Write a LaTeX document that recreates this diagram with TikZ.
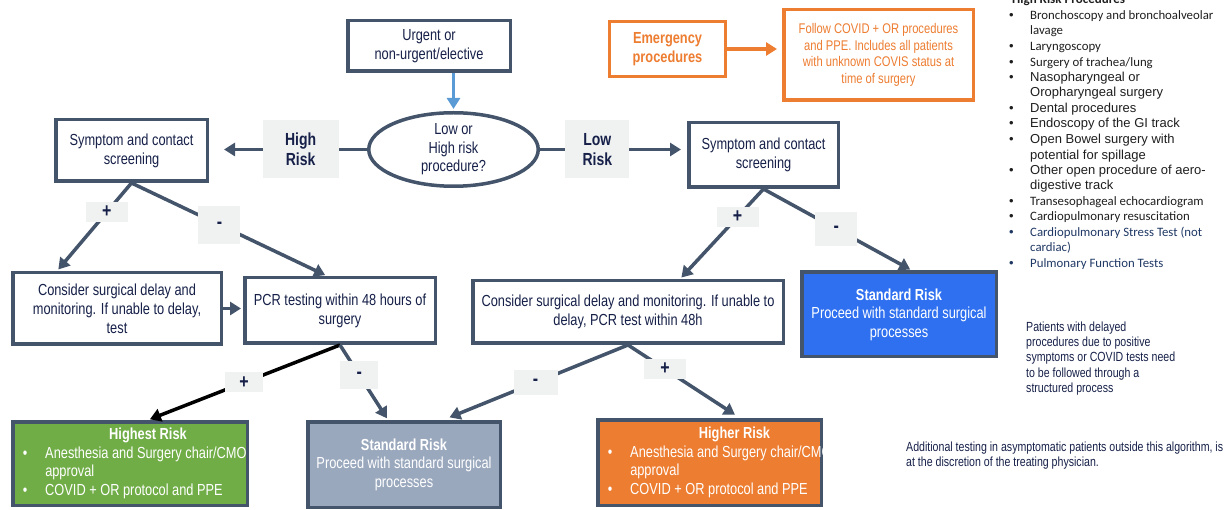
\documentclass[tikz,border=0pt]{standalone}
\usepackage{fontspec}
\setmainfont{Liberation Sans}[FakeStretch=0.8]
\newfontfamily\arialfont{Liberation Sans}
\newfontfamily\califont{Carlito}
\usetikzlibrary{arrows.meta, shapes.geometric}
\definecolor{slate}{RGB}{68,84,106}
\definecolor{navy}{RGB}{22,32,72}
\definecolor{labgrey}{RGB}{240,242,242}
\definecolor{flowblue}{RGB}{91,155,213}
\definecolor{emorange}{RGB}{237,125,49}
\definecolor{riskgreen}{RGB}{112,173,71}
\definecolor{riskgrey}{RGB}{154,168,190}
\definecolor{riskblue}{RGB}{46,112,240}
\definecolor{listblack}{RGB}{30,30,30}
\definecolor{listblue}{RGB}{31,56,100}
\newcommand{\calsz}{\califont\fontsize{12.8}{15}\selectfont}
\newcommand{\arisz}{\arialfont\fontsize{13}{15}\selectfont}
\newcommand{\bitem}{\hspace*{6pt}\makebox[22.5pt][l]{\textbullet}}
\newcommand{\rline}[2]{\makebox[#1][l]{#2}}

\begin{document}
\begin{tikzpicture}[x=1pt, y=-1pt,
  flowbox/.style={rectangle, draw=slate, line width=3.5pt, fill=white, text=navy,
               align=center, font=\fontsize{16}{19}\selectfont, inner sep=4pt},
  riskbox/.style={flowbox, text=white, font=\fontsize{16}{18.5}\selectfont},
  decision/.style={ellipse, draw=slate, line width=3.5pt, fill=white, text=navy, align=center,
               font=\fontsize{16}{18.5}\selectfont, inner sep=0pt},
  emerbox/.style={flowbox, draw=emorange, text=emorange},
  risklab/.style={fill=labgrey, text=navy, align=center, inner sep=0pt,
               font=\fontsize{17.5}{20}\selectfont\bfseries},
  pluslab/.style={fill=labgrey, text=navy, inner sep=0pt, minimum width=42pt, minimum height=20pt,
               font=\fontsize{20}{20}\selectfont\bfseries},
  minuslab/.style={pluslab, minimum height=34pt},
  arrow/.style={-{Triangle[length=11pt, width=13pt]}, line width=3.5pt, slate, shorten >=2pt},
  note/.style={text=navy, align=left, inner sep=0pt, font=\fontsize{13.25}{15.4}\selectfont},
  listline/.style={anchor=base west, inner sep=0pt}
]
\useasboundingbox (0,0) rectangle (1226,510);
\clip (0,0) rectangle (1226,510);

\node[flowbox, minimum width=162.5pt, minimum height=50.5pt] (urgent) at (429,46) {Urgent or\\non-urgent/elective};
\node[decision, minimum width=169.5pt, minimum height=73.5pt] (decide) at (453.5,149.5) {Low or\\High risk\\procedure?};
\node[flowbox, minimum width=151.5pt, minimum height=61.5pt] (scrHigh) at (131.5,150.5) {Symptom and contact\\screening};
\node[flowbox, minimum width=149.5pt, minimum height=64.5pt] (scrLow) at (763.5,155) {Symptom and contact\\screening};
\node[flowbox, minimum width=208.5pt, minimum height=71.5pt] (delayL) at (117,308.5) {Consider surgical delay and\\monitoring. If unable to delay,\\test};
\node[flowbox, minimum width=190.5pt, minimum height=65.5pt] (pcr) at (340,310.5) {PCR testing within 48 hours of\\surgery};
\node[flowbox, minimum width=310.5pt, minimum height=62.5pt] (delayR) at (628,312) {Consider surgical delay and monitoring. If unable to\\delay, PCR test within 48h};
\node[riskbox, fill=riskblue, minimum width=194.5pt, minimum height=84.5pt] (stdBlue) at (899,314.5) {\textbf{Standard Risk}\\Proceed with standard surgical\\processes};
\node[riskbox, fill=riskgreen, minimum width=234.5pt, minimum height=83.5pt, align=left] (highest) at (130,463.5)
  {\makebox[226.5pt]{\hspace*{36pt}\bfseries Highest Risk}\\
   \rline{226.5pt}{\bitem Anesthesia and Surgery chair/CMO}\\
   \rline{226.5pt}{\hspace*{28.5pt}approval}\\
   \rline{226.5pt}{\bitem COVID + OR protocol and PPE}};
\node[riskbox, fill=riskgrey, minimum width=192.5pt, minimum height=85.5pt] (stdGrey) at (404,464.5) {\textbf{Standard Risk}\\Proceed with standard surgical\\processes};
\node[riskbox, fill=emorange, minimum width=223.5pt, minimum height=85.5pt, align=left] (higher) at (709.5,462.5)
  {\makebox[215.5pt]{\hspace*{50pt}\bfseries Higher Risk}\\
   \rline{215.5pt}{\bitem Anesthesia and Surgery chair/CMO}\\
   \rline{215.5pt}{\hspace*{28.5pt}approval}\\
   \rline{215.5pt}{\bitem COVID + OR protocol and PPE}};
\node[emerbox, line width=3pt, minimum width=115.5pt, minimum height=54.5pt, font=\fontsize{16}{18.5}\selectfont\bfseries] (emerg) at (667.5,49) {Emergency\\procedures};
\node[emerbox, minimum width=189.5pt, minimum height=90.5pt, font=\fontsize{14}{16.7}\selectfont] (follow) at (878.5,55) {Follow COVID + OR procedures\\and PPE. Includes all patients\\with unknown COVIS status at\\time of surgery};

\draw[arrow, flowblue, line width=3pt] (decide.north |- urgent.south) -- (decide.north);
\draw[arrow, emorange, shorten >=5pt] (emerg.east) -- (emerg.east -| follow.west);
\draw[arrow, shorten >=15pt] (decide.west) -- node[risklab, pos=0.42, minimum width=76pt, minimum height=58pt] (highLab) {High\\Risk} (decide.west -| scrHigh.east);
\draw[arrow, shorten >=6pt] (decide.east) -- node[risklab, pos=0.39, minimum width=64pt, minimum height=58pt] (lowLab) {Low\\Risk} (decide.east -| scrLow.west);
\draw[arrow] (scrHigh.south) -- node[pluslab, pos=0.33] (plusA) {+} ([xshift=46pt]delayL.north west);
\draw[arrow] (scrHigh.south) -- node[minuslab, pos=0.45, minimum height=38pt] (minusA) {-} ([xshift=84pt]pcr.north west);
\draw[arrow] (delayL.east) -- (delayL.east -| pcr.west);
\draw[arrow] (scrLow.south) -- node[pluslab, pos=0.31] (plusB) {+} ([xshift=209pt]delayR.north west);
\draw[arrow] (scrLow.south) -- node[minuslab, pos=0.49] (minusB) {-} ([xshift=112pt]stdBlue.north west);
\draw[arrow, black] (pcr.south) -- node[pluslab, pos=0.5, minimum width=38pt] (plusC) {+} ([xshift=137pt]highest.north west);
\draw[arrow] (pcr.south) -- node[minuslab, pos=0.4, minimum width=38pt, minimum height=28pt] (minusC) {-} ([xshift=82pt]stdGrey.north west);
\draw[arrow, shorten >=7pt] (delayR.south) -- node[minuslab, pos=0.5, minimum width=44pt, minimum height=25pt] (minusD) {-} ([xshift=137pt]stdGrey.north west);
\draw[arrow, shorten >=6pt] (delayR.south) -- node[pluslab, pos=0.33] (plusD) {+} ([xshift=144pt]higher.north west);

\node[listline, text=listblack] (hrTitle) at (1012,3.5) {\califont\fontsize{13}{15}\selectfont\bfseries High Risk Procedures};
\foreach \yy/\bb/\ff/\cc/\txt [count=\i] in {
  19.5/1/\calsz/listblack/{Bronchoscopy and bronchoalveolar},
  34.5/0/\calsz/listblack/{lavage},
  50.5/1/\calsz/listblack/{Laryngoscopy},
  66.5/1/\calsz/listblack/{Surgery of trachea/lung},
  81.5/1/\arisz/listblack/{Nasopharyngeal or},
  96.5/0/\arisz/listblack/{Oropharyngeal surgery},
  112.5/1/\arisz/listblack/{Dental procedures},
  127.5/1/\arisz/listblack/{Endoscopy of the GI track},
  143.5/1/\arisz/listblack/{Open Bowel surgery with},
  159.5/0/\arisz/listblack/{potential for spillage},
  174.5/1/\arisz/listblack/{Other open procedure of aero-},
  189.5/0/\arisz/listblack/{digestive track},
  205.5/1/\calsz/listblack/{Transesophageal echocardiogram},
  220.5/1/\calsz/listblack/{Cardiopulmonary resuscitation},
  236.5/1/\calsz/listblue/{Cardiopulmonary Stress Test (not},
  251.5/0/\calsz/listblue/{cardiac)},
  267.5/1/\calsz/listblue/{Pulmonary Function Tests}}{
  \node[listline, text=\cc] (hr\i) at (1030,\yy) {\ff\txt};
  \ifnum\bb=1 \node[listline, text=\cc] (hb\i) at (1009,\yy) {\arisz\textbullet}; \fi
}

\node[note, anchor=north west] (delayNote) at (1026,321.3) {Patients with delayed\\procedures due to positive\\symptoms or COVID tests need\\to be followed through a\\structured process};
\node[note, anchor=north west] (testNote) at (906,441.5) {Additional testing in asymptomatic patients outside this algorithm, is\\at the discretion of the treating physician.};
\end{tikzpicture}
\end{document}
